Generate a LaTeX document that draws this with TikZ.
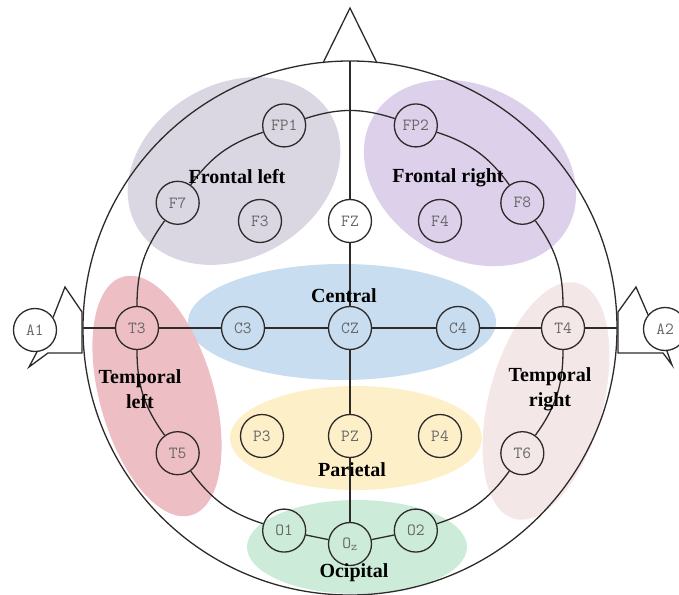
\documentclass[tikz,border=0pt]{standalone}
\usepackage{fontspec}
\setmainfont{Liberation Serif}
\usetikzlibrary{calc}

\definecolor{linec}{HTML}{2E2A2A}
\definecolor{elecgray}{HTML}{666666}
\definecolor{frontl}{HTML}{DAD7E3}
\definecolor{frontr}{HTML}{DDD0EA}
\definecolor{centr}{HTML}{C8DDEF}
\definecolor{templ}{HTML}{EDBFC4}
\definecolor{tempr}{HTML}{F4E7E7}
\definecolor{pariet}{HTML}{FDEFC8}
\definecolor{occip}{HTML}{CDEBD9}

\begin{document}
\begin{tikzpicture}[x=1pt,y=1pt,line width=1.3pt,
  elec/.style={circle,draw=linec,minimum size=43pt,inner sep=0pt,
    text=elecgray,font={\ttfamily\fontsize{17}{17}\selectfont}},
  region/.style={font={\bfseries\fontsize{20}{25}\selectfont},align=center},
  wire/.style={draw=linec}]
  \useasboundingbox (-350,-266) rectangle (329,328);
  % lobes
  \fill[frontl,rotate around={30:(-116,157)}] (-116,157) ellipse (112pt and 87pt);
  \fill[frontr,rotate around={-30:(120,155)}] (120,155) ellipse (112pt and 86pt);
  \fill[centr] (-8,6) ellipse (154pt and 58pt);
  \fill[templ,rotate around={16:(-193,-68)}] (-193,-68) ellipse (57pt and 124pt);
  \fill[tempr,rotate around={-15:(196,-73)}] (196,-73) ellipse (57pt and 122pt);
  \fill[pariet] (6,-110) ellipse (126pt and 52pt);
  \fill[occip] (7,-219) ellipse (110pt and 47pt);
  % head, nose
  \draw[wire] (0,0) circle (267pt);
  \draw[wire] (-27,265) -- (0,320) -- (27,265);
  \coordinate (top) at (0,267);
  \coordinate (lear) at (-267,0);
  \coordinate (rear) at (267,0);
  % electrodes
  \node[elec] (FP1) at (108:213) {FP1};
  \node[elec] (FP2) at (72:213) {FP2};
  \node[elec] (F7) at (144:213) {F7};
  \node[elec] (F8) at (36:213) {F8};
  \node[elec] (T3) at (180:213) {T3};
  \node[elec] (T4) at (0:213) {T4};
  \node[elec] (T5) at (216:213) {T5};
  \node[elec] (T6) at (324:213) {T6};
  \node[elec] (O1) at (252:213) {O1};
  \node[elec] (O2) at (288:213) {O2};
  \node[elec] (Oz) at (0,-216) {O\textsubscript{z}};
  \node[elec] (F3) at (-90,107) {F3};
  \node[elec,fill=white] (FZ) at (0,107) {FZ};
  \node[elec] (F4) at (90,107) {F4};
  \node[elec] (C3) at (-107,0) {C3};
  \node[elec] (CZ) at (0,0) {CZ};
  \node[elec] (C4) at (108,0) {C4};
  \node[elec] (P3) at (-88,-108) {P3};
  \node[elec] (PZ) at (0,-108) {PZ};
  \node[elec] (P4) at (90,-108) {P4};
  \node[elec] (A1) at (-315,-2) {A1};
  \node[elec] (A2) at (315,-1) {A2};
  % ring
  \draw[wire] (O1) to[bend left=18] (T5);
  \draw[wire] (T5) to[bend left=18] (T3);
  \draw[wire] (T3) to[bend left=18] (F7);
  \draw[wire] (F7) to[bend left=18] (FP1);
  \draw[wire] (FP1) to[bend left=18] (FP2);
  \draw[wire] (FP2) to[bend left=18] (F8);
  \draw[wire] (F8) to[bend left=18] (T4);
  \draw[wire] (T4) to[bend left=18] (T6);
  \draw[wire] (T6) to[bend left=18] (O2);
  \draw[wire] (O1) -- (Oz) -- (O2);
  % midlines
  \draw[wire] (lear) -- (T3) -- (C3) -- (CZ) -- (C4) -- (T4) -- (rear);
  \draw[wire] (top) -- (FZ) -- (CZ) -- (PZ) -- (Oz);
  % ears
  \draw[wire] (A1.35) -- (-285,41) -- (-268,16) -- (-268,-25) -- (-302,-25)
    -- (-321,-39) -- (A1.275);
  \draw[wire] (A2.140) -- (286,41) -- (268,16) -- (268,-25) -- (313,-25)
    -- (322,-37) -- (A2.275);
  % labels
  \node[region] (lfl) at (-113,151) {Frontal left};
  \node[region] (lfr) at (98,150) {Frontal right};
  \node[region] (lc) at (-6,32) {Central};
  \node[region] (ltl) at (-210,-61) {Temporal\\left};
  \node[region] (ltr) at (200,-61) {Temporal\\right};
  \node[region] (lp) at (2,-142) {Parietal};
  \node[region] (lo) at (4,-245) {Ocipital};
\end{tikzpicture}
\end{document}
